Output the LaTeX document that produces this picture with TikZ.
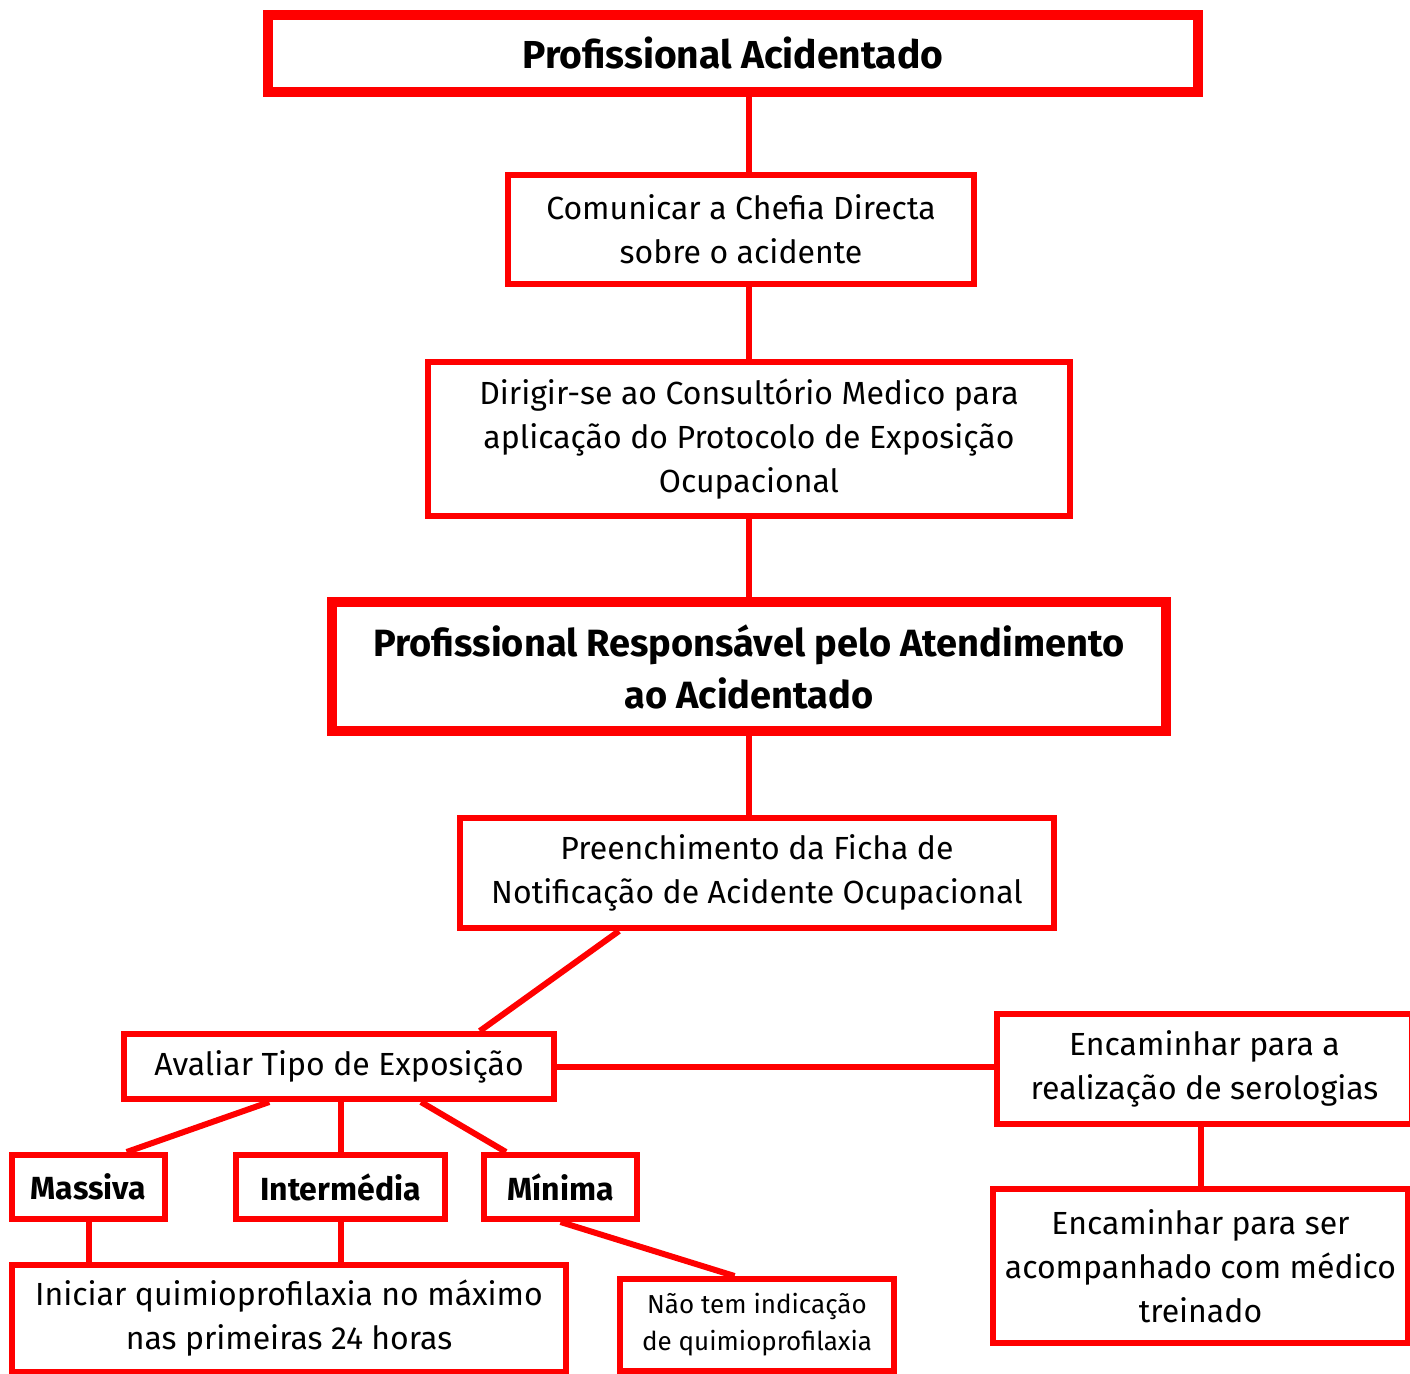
\documentclass[tikz,border=0pt]{standalone}
\usepackage{fontspec}
\setmainfont{Fira Sans}
\usetikzlibrary{calc}

\tikzset{
  box/.style={draw=red, line width=3pt, fill=white, inner sep=0pt, align=center,
    font=\fontsize{16}{22}\selectfont},
  bigbox/.style={box, line width=5pt},
  link/.style={draw=red, line width=3pt}
}

\begin{document}
\begin{tikzpicture}[x=0.5pt,y=-0.5pt]
\useasboundingbox (0,0) rectangle (1410,1373);
\clip (0,0) rectangle (1410,1373);
% boxes
\node[bigbox, minimum width=465pt, minimum height=38.5pt, font=\fontsize{19.5}{26}\selectfont\bfseries] (acid) at (733,53.5) {Profissional Acidentado};
\node[box, minimum width=233pt, minimum height=54.5pt] (com) at (741,229.5) {Comunicar a Chefia Directa\\sobre o acidente};
\node[box, minimum width=321pt, minimum height=77pt] (dir) at (749,439) {Dirigir-se ao Consultório Medico para\\aplicação do Protocolo de Exposição\\Ocupacional};
\node[bigbox, minimum width=417pt, minimum height=64.5pt, font=\fontsize{19}{26}\selectfont\bfseries] (resp) at (749,666.5) {Profissional Responsável pelo Atendimento\\ao Acidentado};
\node[box, minimum width=297pt, minimum height=55pt] (pre) at (757,873) {Preenchimento da Ficha de\\Notificação de Acidente Ocupacional};
\node[box, minimum width=215pt, minimum height=32.5pt] (aval) at (339,1066.5) {\raisebox{-2pt}{Avaliar Tipo de Exposição}};
\node[box, minimum width=207.5pt, minimum height=55pt] (sero) at (1204.5,1069) {Encaminhar para a\\realização de serologias};
\node[box, minimum width=207.5pt, minimum height=77pt] (ser) at (1200.5,1266) {Encaminhar para ser\\acompanhado com médico\\treinado};
\node[box, minimum width=76.5pt, minimum height=32pt, font=\fontsize{16}{22}\selectfont\bfseries] (mas) at (88.5,1187) {Massiva};
\node[box, minimum width=104.5pt, minimum height=32pt, font=\fontsize{16}{22}\selectfont\bfseries] (inter) at (340.5,1187) {Intermédia};
\node[box, minimum width=76.5pt, minimum height=32pt, font=\fontsize{16}{22}\selectfont\bfseries] (min) at (560.5,1187) {Mínima};
\node[box, minimum width=277pt, minimum height=53.5pt] (ini) at (289,1318.5) {Iniciar quimioprofilaxia no máximo\\nas primeiras 24 horas};
\node[box, minimum width=137pt, minimum height=46pt, font=\fontsize{13}{18.5}\selectfont] (nao) at (757,1325) {Não tem indicação\\de quimioprofilaxia};
% connectors
\draw[link] (acid.south -| dir.north) -- (com.north -| dir.north);
\draw[link] (com.south -| dir.north) -- (dir.north);
\draw[link] (dir.south) -- (resp.north);
\draw[link] (resp.south) -- (resp.south |- pre.north);
\draw[link] ($(pre.south west)!0.27!(pre.south east)$) -- ($(aval.north west)!0.823!(aval.north east)$);
\draw[link] (aval.east) -- (aval.east -| sero.west);
\draw[link] ($(aval.south west)!0.34!(aval.south east)$) -- ($(mas.north west)!0.74!(mas.north east)$);
\draw[link] (inter.north |- aval.south) -- (inter.north);
\draw[link] ($(aval.south west)!0.688!(aval.south east)$) -- ($(min.north west)!0.157!(min.north east)$);
\draw[link] (mas.south) -- (mas.south |- ini.north);
\draw[link] (inter.south) -- (inter.south |- ini.north);
\draw[link] (min.south) -- ($(nao.north west)!0.42!(nao.north east)$);
\draw[link] (ser.north |- sero.south) -- (ser.north);
\end{tikzpicture}
\end{document}
